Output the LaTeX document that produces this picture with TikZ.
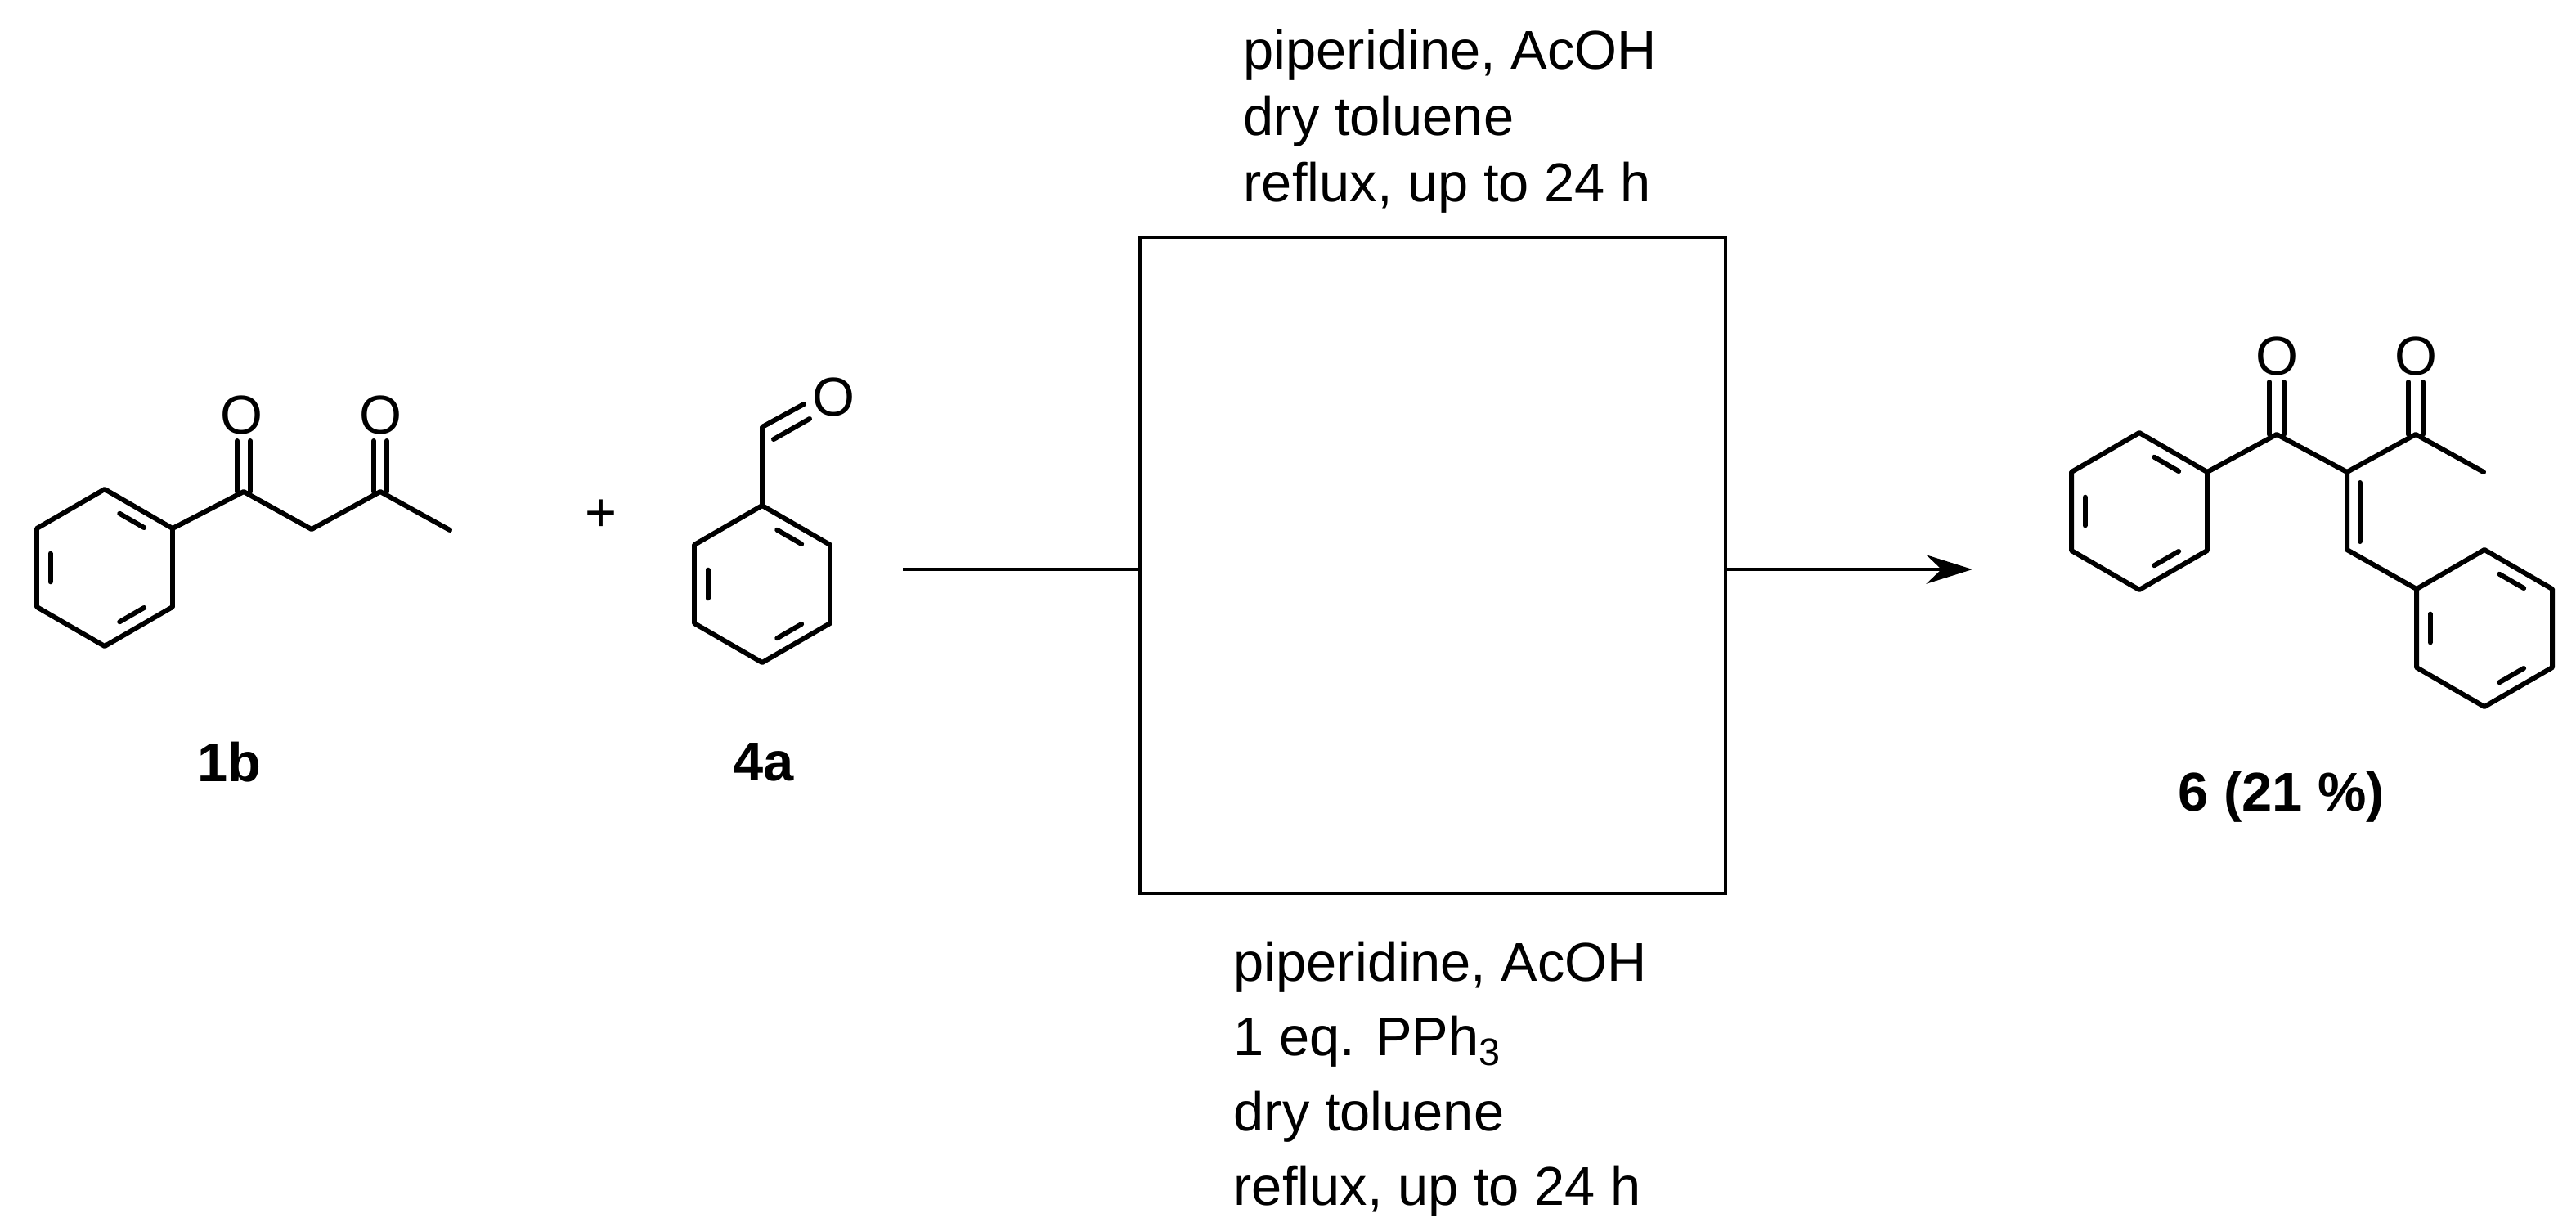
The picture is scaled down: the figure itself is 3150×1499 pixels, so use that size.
\documentclass[tikz,border=0pt]{standalone}
\usepackage{fontspec}
\setmainfont{Liberation Sans}
\usetikzlibrary{calc,arrows.meta}
\tikzset{bond/.style={line width=1.7pt,line cap=round,line join=round},
 lbl/.style={font=\fontsize{19}{23}\selectfont,inner sep=0pt},
 cond/.style={font=\fontsize{19}{23}\selectfont,inner sep=0pt,align=left,anchor=west},
 atom/.style={font=\fontsize{19}{23}\selectfont,inner sep=1pt}}
\newcommand\benzring[3]{%
 \coordinate (#1c) at (#2,#3);
 \coordinate (#1T) at ($(#1c)+(0,-96)$); \coordinate (#1UR) at ($(#1c)+(83,-48)$);
 \coordinate (#1LR) at ($(#1c)+(83,48)$); \coordinate (#1B) at ($(#1c)+(0,96)$);
 \coordinate (#1LL) at ($(#1c)+(-83,48)$); \coordinate (#1UL) at ($(#1c)+(-83,-48)$);
 \draw[bond] (#1T)--(#1UR)--(#1LR)--(#1B)--(#1LL)--(#1UL)--cycle;
 \draw[bond] ($(#1c)!0.8!(#1T)!0.1!(#1c)!0!(#1c)$) ;
 \draw[bond,shorten <=6pt,shorten >=6pt] ($(#1c)!0.8!(#1T)$)--($(#1c)!0.8!(#1UR)$);
 \draw[bond,shorten <=6pt,shorten >=6pt] ($(#1c)!0.8!(#1LR)$)--($(#1c)!0.8!(#1B)$);
 \draw[bond,shorten <=6pt,shorten >=6pt] ($(#1c)!0.8!(#1LL)$)--($(#1c)!0.8!(#1UL)$);
}
\begin{document}
\begin{tikzpicture}[x=0.01cm,y=-0.01cm]
\useasboundingbox (0,0) rectangle (3150,1499);
% 1b
\benzring{a}{128}{694}
\coordinate (a1) at (298,601); \coordinate (a2) at (381,647);
\coordinate (a3) at (465,601); \coordinate (a4) at (550,648);
\draw[bond] (aUR)--(a1)--(a2)--(a3)--(a4);
\node[atom] (ao1) at (295,507) {O};
\node[atom] (ao2) at (465,507) {O};
\draw[bond] ($(a1)+(-8,0)$)--($(a1)+(-8,-62)$);
\draw[bond] ($(a1)+(8,0)$)--($(a1)+(8,-62)$);
\draw[bond] ($(a3)+(-8,0)$)--($(a3)+(-8,-62)$);
\draw[bond] ($(a3)+(8,0)$)--($(a3)+(8,-62)$);
\node[atom] (plus) at (735,630) {+};
% 4a
\benzring{b}{932}{714}
\coordinate (b1) at (932,522);
\draw[bond] (bT)--(b1)--(983,494);
\draw[bond] (946,537)--(990,512);
\node[atom] (bo) at (1019,485) {O};
% labels
\node[lbl,font=\fontsize{19}{23}\selectfont\bfseries] (l1b) at (280,932) {1b};
\node[lbl,font=\fontsize{19}{23}\selectfont\bfseries] (l4a) at (934,932) {4a};
% box and arrows
\coordinate (s) at (1104,696); \coordinate (bl) at (1394,696);
\coordinate (br) at (2110,696); \coordinate (e) at (2412,696);
\draw[line width=1.3pt] (1394,290) rectangle (2110,1092);
\draw[line width=1.3pt] (s)--(bl);
\draw[line width=1.3pt,-{Stealth[length=16pt,width=10pt]}] (br)--(e);
\node[cond] (top) at (1520,148) {piperidine, AcOH\\dry toluene\\reflux, up to 24 h};
\node[cond,anchor=north west] (bot) at (1508,1150) {piperidine, AcOH\\[3pt]1 eq. PPh\textsubscript{3}\\[3pt]dry toluene\\[3pt]reflux, up to 24 h};
% product 6
\benzring{p}{2616}{625}
\benzring{q}{3038}{768}
\coordinate (p1) at (2784,531); \coordinate (p2) at (2870,577);
\coordinate (p3) at (2954,531); \coordinate (p4) at (3037,577);
\coordinate (p5) at (2870,672);
\draw[bond] (pUR)--(p1)--(p2)--(p3)--(p4);
\draw[bond] (p2)--(p5)--(qUL);
\draw[bond] (2886,590)--(2886,662);
\node[atom] (po1) at (2784,435) {O};
\node[atom] (po2) at (2954,435) {O};
\draw[bond] ($(p1)+(-9,0)$)--($(p1)+(-9,-64)$);
\draw[bond] ($(p1)+(9,0)$)--($(p1)+(9,-64)$);
\draw[bond] ($(p3)+(-9,0)$)--($(p3)+(-9,-64)$);
\draw[bond] ($(p3)+(9,0)$)--($(p3)+(9,-64)$);
\node[lbl,font=\fontsize{19}{23}\selectfont\bfseries] (l6) at (2790,974) {6 (21 \%)};
\end{tikzpicture}
\end{document}
